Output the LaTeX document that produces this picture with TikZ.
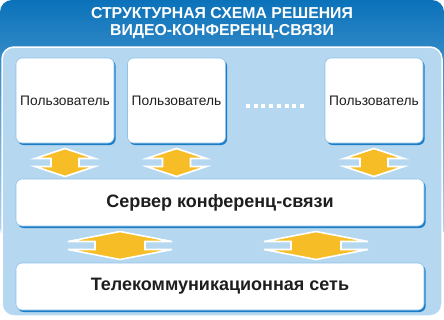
\documentclass[tikz,border=0pt]{standalone}
\usepackage{fontspec}
\setmainfont{Liberation Sans}
\usetikzlibrary{shadows,calc}
\definecolor{hdr}{HTML}{0B72BA}
\definecolor{bodyc}{HTML}{B5D7EF}
\definecolor{shad}{HTML}{1C7DC6}
\definecolor{bordr}{HTML}{8EC3EA}
\definecolor{arr}{HTML}{F7BD27}
\definecolor{txt}{HTML}{1E1E1E}
\tikzset{
  boxsty/.style={rounded corners=6pt, fill=white, draw=bordr, line width=0.6pt,
    general shadow={fill=shad, shadow xshift=1.6pt, shadow yshift=-2pt},
    text=txt, inner sep=0pt},
  userbox/.style={boxsty, minimum width=98pt, minimum height=85pt,
    font=\fontsize{13.8}{16}\selectfont},
  widebox/.style={boxsty, minimum width=408pt, minimum height=47pt,
    font=\bfseries\fontsize{18}{21}\selectfont},
  arrsty/.style={fill=arr, draw=white, line width=1.6pt, line join=miter},
  dotsty/.style={fill=white},
}
% #1 centre, #2 half head width, #3 half shaft width
\newcommand\dblarrowshape[3]{%
  \filldraw[arrsty, shift={(#1)}] (0,-14) -- (#2,-4) -- (#3,-4) -- (#3,4) -- (#2,4)
    -- (0,14) -- (-#2,4) -- (-#3,4) -- (-#3,-4) -- (-#2,-4) -- cycle;}
\begin{document}
\begin{tikzpicture}[x=1pt,y=-1pt]
\useasboundingbox (0,0) rectangle (444,319);
% frame
\shade[top color=hdr, middle color=hdr, bottom color=bodyc, rounded corners=12pt]
  (0,0) rectangle (444,240);
\draw[white, line width=1.5pt, fill=bodyc, rounded corners=12pt] (2,47) rectangle (442,316);
% title
\node[text=white, font=\bfseries\fontsize{15.8}{17}\selectfont, align=center, inner sep=0pt]
  (title) at (222,23.5) {СТРУКТУРНАЯ СХЕМА РЕШЕНИЯ\\ВИДЕО-КОНФЕРЕНЦ-СВЯЗИ};
% boxes
\node[userbox] (u1) at (65,100.5) {Пользователь};
\node[userbox] (u2) at (176.5,100.5) {Пользователь};
\node[userbox] (u4) at (374,100.5) {Пользователь};
\node[widebox] (srv) at (220,202.5) {Сервер конференц-связи};
\node[widebox] (net) at (220,286.5) {Телекоммуникационная сеть};
% dots
\foreach \i in {0,...,7} {
  \fill[dotsty] ({246+7.7*\i},104) rectangle ++(4,3.5);
}
% arrows
\coordinate (a1) at ($(u1.south |- srv.north)!0.5!(u1.south)+(0,1.5)$);
\coordinate (a2) at ($(u2.south |- srv.north)!0.5!(u2.south)+(0,1.5)$);
\coordinate (a4) at ($(u4.south |- srv.north)!0.5!(u4.south)+(0,1.5)$);
\coordinate (b1) at (120,245.5);
\coordinate (b2) at (316,245.5);
\dblarrowshape{a1}{30}{14}
\dblarrowshape{a2}{30}{14}
\dblarrowshape{a4}{30}{14}
\dblarrowshape{b1}{52}{25}
\dblarrowshape{b2}{52}{25}
\end{tikzpicture}
\end{document}
